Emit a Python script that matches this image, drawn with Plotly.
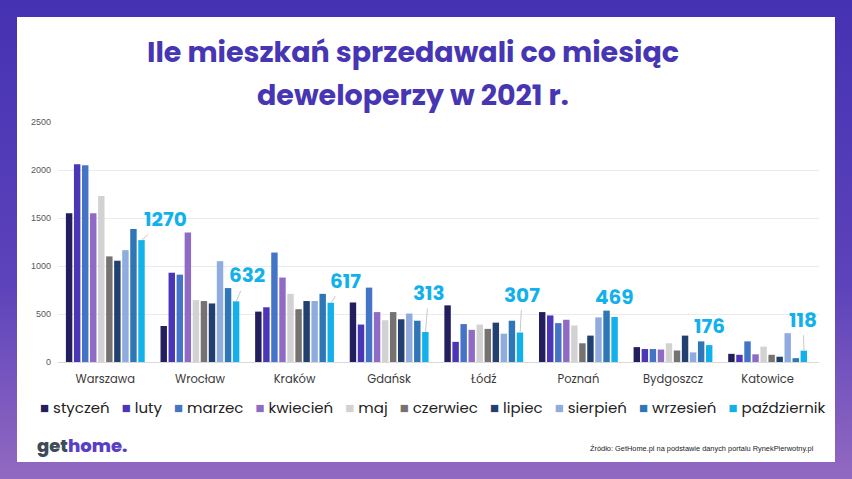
import base64
import plotly.graph_objects as go

# ---------------- data ----------------
cities = ["Warszawa", "Wrocław", "Kraków", "Gdańsk", "Łódź", "Poznań", "Bydgoszcz", "Katowice"]
months = ["styczeń", "luty", "marzec", "kwiecień", "maj", "czerwiec",
          "lipiec", "sierpień", "wrzesień", "październik"]

styczen     = [1550, 375, 525, 620, 590, 520, 155, 85]
luty        = [2060, 930, 570, 390, 210, 485, 135, 75]
marzec      = [2050, 910, 1140, 775, 395, 405, 135, 215]
kwiecien    = [1550, 1350, 880, 520, 335, 440, 130, 80]
maj         = [1730, 645, 710, 435, 390, 380, 195, 160]
czerwiec    = [1100, 635, 550, 520, 345, 195, 120, 75]
lipiec      = [1055, 610, 635, 445, 410, 275, 275, 55]
sierpien    = [1165, 1050, 635, 505, 295, 465, 100, 300]
wrzesien    = [1385, 770, 710, 430, 430, 535, 215, 40]
pazdziernik = [1270, 632, 617, 313, 307, 469, 176, 118]

series = [styczen, luty, marzec, kwiecien, maj, czerwiec, lipiec, sierpien, wrzesien, pazdziernik]

y_ticks = [0, 500, 1000, 1500, 2000, 2500]

# label offsets (px) for październik value labels, and whether a leader line is shown
label_ax = [24, 11, 15, 3, 2, 0, 0, -1]
label_ay = [-21, -26, -22, -39, -38, -20, -19, -31]
label_line = [True, True, True, True, True, False, False, True]

colors = ["#231e5e", "#4a36b6", "#4474c6", "#8f6bc6", "#d2d2d2", "#767272",
          "#22406f", "#90abdd", "#2e76b6", "#13b1eb"]

# ---------------- geometry ----------------
W, H = 852, 479
ML, MR, MT, MB = 58, 33, 122, 117
PW, PH = W - ML - MR, H - MT - MB
BARGAP = 0.15
GROUPGAP = 0.2


def px_x(px):
    return (px - ML) / PW


def px_y(py):
    return (H - MB - py) / PH


fig = go.Figure()
for m, vals, c in zip(months, series, colors):
    fig.add_trace(go.Bar(name=m, x=cities, y=vals, marker_color=c,
                         marker_line_width=0, hoverinfo="x+y+name"))

# gradient background
svg = (f"<svg xmlns='http://www.w3.org/2000/svg' width='{W}' height='{H}'>"
       "<defs><linearGradient id='g' x1='0' y1='0' x2='0' y2='1'>"
       "<stop offset='0' stop-color='#4532b2'/>"
       "<stop offset='0.6' stop-color='#5d43bb'/>"
       "<stop offset='1' stop-color='#9269c1'/>"
       "</linearGradient></defs>"
       f"<rect width='{W}' height='{H}' fill='url(#g)'/></svg>")
src = "data:image/svg+xml;base64," + base64.b64encode(svg.encode()).decode()

fig.add_layout_image(dict(source=src, xref="paper", yref="paper",
                          x=px_x(0), y=px_y(0), sizex=W / PW, sizey=H / PH,
                          xanchor="left", yanchor="top", sizing="stretch",
                          layer="below"))

# white panel
fig.add_shape(type="rect", xref="paper", yref="paper",
              x0=px_x(17), x1=px_x(835), y0=px_y(462), y1=px_y(17),
              fillcolor="white", line_width=0, layer="below")

annotations = []
# title
title_font = dict(family="Poppins, Lato, sans-serif", size=28.5, color="#4736b3", weight=700)
annotations.append(dict(text="Ile mieszkań sprzedawali co miesiąc", xref="paper", yref="paper",
                        x=px_x(413), y=px_y(51.5), showarrow=False, font=title_font,
                        xanchor="center", yanchor="middle"))
annotations.append(dict(text="deweloperzy w 2021 r.", xref="paper", yref="paper",
                        x=px_x(413), y=px_y(94.5), showarrow=False, font=title_font,
                        xanchor="center", yanchor="middle"))

# październik value labels
cat_px = PW / len(cities)
n = len(months)
shift = (n - 1) / 2 * (1 - BARGAP) * cat_px / n
for i, (c, v) in enumerate(zip(cities, pazdziernik)):
    annotations.append(dict(
        x=c, y=v, xref="x", yref="y", text=str(v), xshift=shift,
        showarrow=True, arrowhead=0, arrowwidth=1,
        arrowcolor="#c8c8c8" if label_line[i] else "rgba(0,0,0,0)",
        ax=label_ax[i], ay=label_ay[i], standoff=0,
        font=dict(family="Poppins, Lato, sans-serif", size=20, color="#13b1eb", weight=700)))

# legend (custom, single line)
legend_txt = "&nbsp;&nbsp;&nbsp;".join(
    f"<span style='color:{c}'>■</span>&nbsp;{m}" for m, c in zip(months, colors))
annotations.append(dict(text=legend_txt, xref="paper", yref="paper",
                        x=px_x(432), y=px_y(407), showarrow=False,
                        xanchor="center", yanchor="middle",
                        font=dict(family="Poppins, Lato, sans-serif", size=15, color="#222222")))

# logo
annotations.append(dict(text="<span style='color:#3e4b58'>get</span><span style='color:#5a3fc6'>home.</span>",
                        xref="paper", yref="paper", x=px_x(35), y=px_y(445),
                        showarrow=False, xanchor="left", yanchor="middle",
                        font=dict(family="Poppins, Lato, sans-serif", size=18, weight=800)))

# source
annotations.append(dict(text="Źródło: GetHome.pl na podstawie danych portalu RynekPierwotny.pl",
                        xref="paper", yref="paper", x=px_x(816), y=px_y(448),
                        showarrow=False, xanchor="right", yanchor="middle",
                        font=dict(family="Liberation Sans Narrow, Arial Narrow, sans-serif",
                                  size=7.4, color="#222222")))

fig.update_layout(
    width=W, height=H,
    margin=dict(l=ML, r=MR, t=MT, b=MB),
    paper_bgcolor="#5a40b9",
    plot_bgcolor="rgba(0,0,0,0)",
    barmode="group", bargap=BARGAP, bargroupgap=GROUPGAP,
    showlegend=False,
    annotations=annotations,
    xaxis=dict(showgrid=False, showline=True, linecolor="#d9d9d9", linewidth=1,
               ticks="", tickfont=dict(family="Poppins, Lato, sans-serif", size=11.5, color="#3a3a3a"),
               ticklabelstandoff=6),
    yaxis=dict(range=[0, 2500], tickvals=y_ticks, showgrid=True, gridcolor="#ebebeb",
               gridwidth=1, zeroline=False, showline=False, ticks="",
               tickfont=dict(family="Liberation Sans, Arial, sans-serif", size=9, color="#595959"),
               ticklabelstandoff=6),
)

fig.write_html("out.html", config={"displayModeBar": False},
               post_script="document.body.style.margin='0';document.body.style.padding='0';")
